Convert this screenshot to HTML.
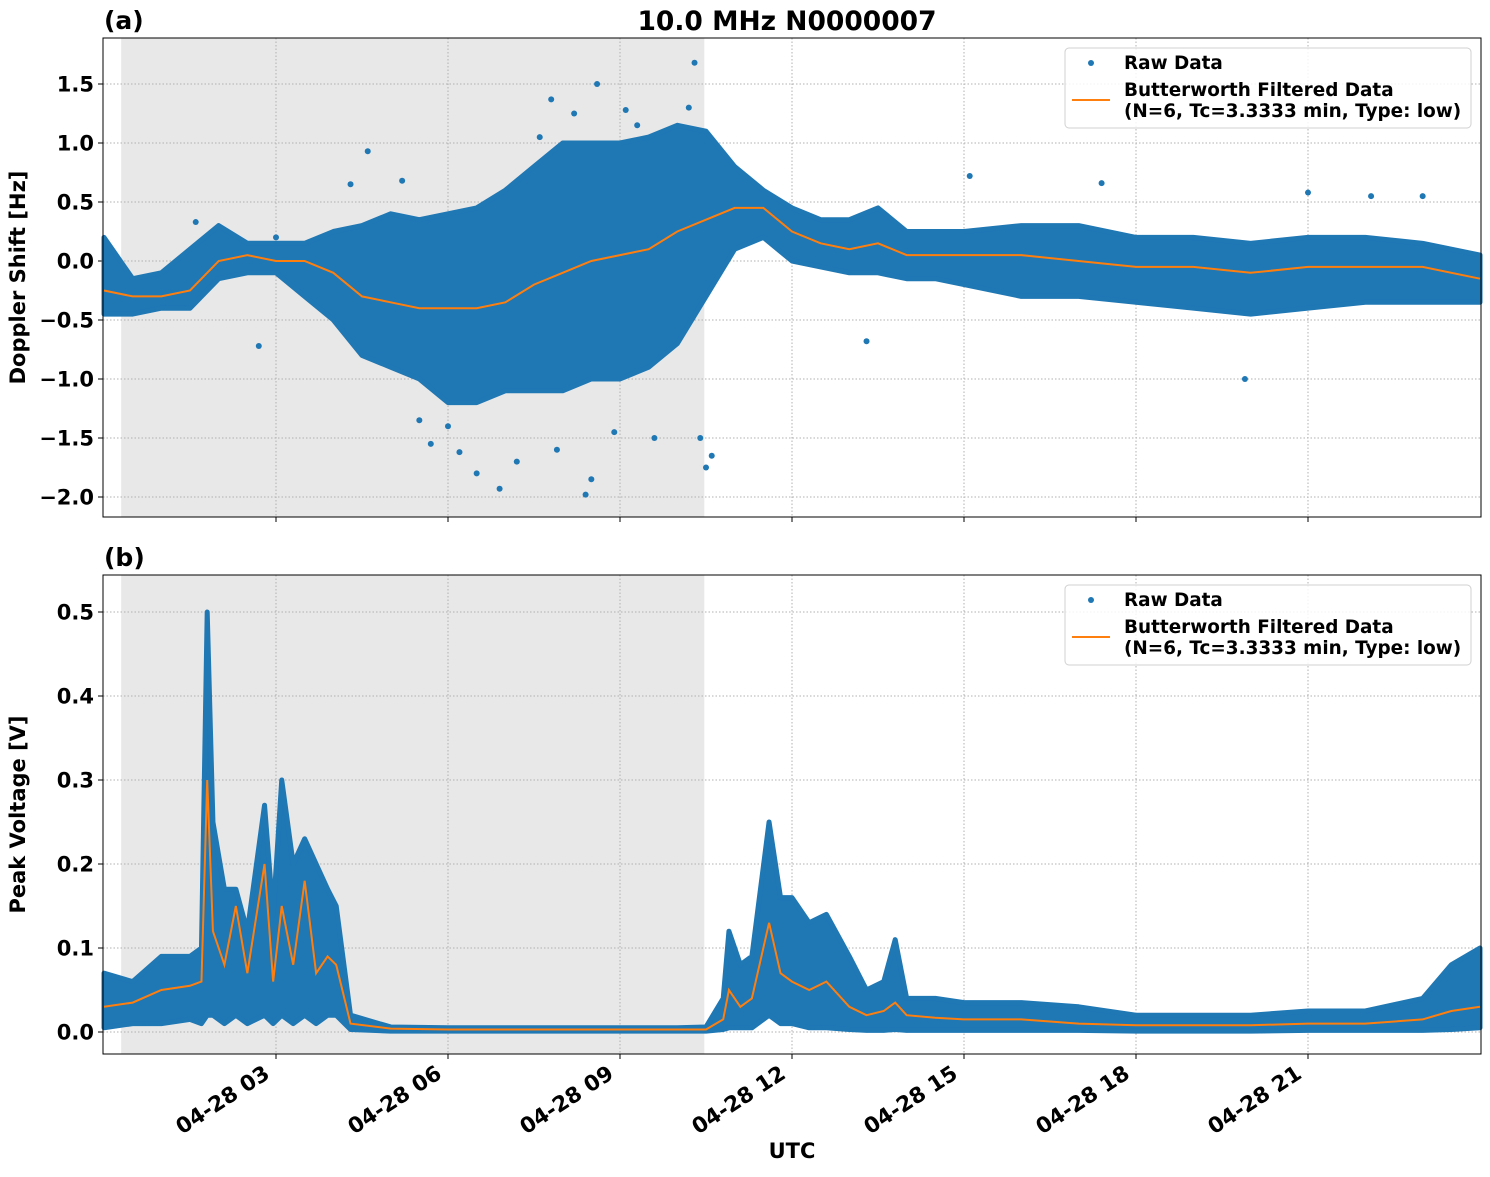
<!DOCTYPE html>
<html><head><meta charset="utf-8"><style>
body{margin:0;background:#fff;}
svg text{font-family:"DejaVu Sans","Liberation Sans",sans-serif;font-weight:bold;}
</style></head><body>
<svg id="c" width="1490" height="1172" xmlns="http://www.w3.org/2000/svg"></svg>
<script>
// ---- Panel (a) Doppler data ----
const timesA=[0,0.5,1,1.5,2,2.5,3,3.5,4,4.5,5,5.5,6,6.5,7,7.5,8,8.5,9,9.5,10,10.5,11,11.5,12,12.5,13,13.5,14,14.5,15,16,17,18,19,20,21,22,23,24];
const filtA=[-0.25,-0.3,-0.3,-0.25,0.0,0.05,0.0,0.0,-0.1,-0.3,-0.35,-0.4,-0.4,-0.4,-0.35,-0.2,-0.1,0.0,0.05,0.1,0.25,0.35,0.45,0.45,0.25,0.15,0.1,0.15,0.05,0.05,0.05,0.05,0.0,-0.05,-0.05,-0.1,-0.05,-0.05,-0.05,-0.15];
const upA=[0.2,-0.15,-0.1,0.1,0.3,0.15,0.15,0.15,0.25,0.3,0.4,0.35,0.4,0.45,0.6,0.8,1.0,1.0,1.0,1.05,1.15,1.1,0.8,0.6,0.45,0.35,0.35,0.45,0.25,0.25,0.25,0.3,0.3,0.2,0.2,0.15,0.2,0.2,0.15,0.05];
const loA=[-0.45,-0.45,-0.4,-0.4,-0.15,-0.1,-0.1,-0.3,-0.5,-0.8,-0.9,-1.0,-1.2,-1.2,-1.1,-1.1,-1.1,-1.0,-1.0,-0.9,-0.7,-0.3,0.1,0.2,0.0,-0.05,-0.1,-0.1,-0.15,-0.15,-0.2,-0.3,-0.3,-0.35,-0.4,-0.45,-0.4,-0.35,-0.35,-0.35];
const outTA=[4.6,5.7,6.2,6.5,6.9,7.8,8.2,8.4,8.6,9.1,9.6,10.3,10.5,1.6,2.7,3.0,13.3,15.1,17.4,19.9,21.0,22.1,23.0,8.5,10.2,7.6,5.2,4.3,5.5,6.0,7.2,7.9,9.3,10.6,10.4,8.9];
const outVA=[0.93,-1.55,-1.62,-1.8,-1.93,1.37,1.25,-1.98,1.5,1.28,-1.5,1.68,-1.75,0.33,-0.72,0.2,-0.68,0.72,0.66,-1.0,0.58,0.55,0.55,-1.85,1.3,1.05,0.68,0.65,-1.35,-1.4,-1.7,-1.6,1.15,-1.65,-1.5,-1.45];
// ---- Panel (b) Peak voltage data ----
const timesB=[0,0.5,1,1.5,1.7,1.8,1.9,2.1,2.3,2.5,2.8,2.95,3.1,3.3,3.5,3.7,3.9,4.05,4.3,5,6,8,10,10.5,10.8,10.9,11.1,11.3,11.6,11.8,12,12.3,12.6,13,13.3,13.6,13.8,14,14.5,15,16,17,18,19,20,21,22,23,23.5,24];
const filtB=[0.03,0.035,0.05,0.055,0.06,0.3,0.12,0.08,0.15,0.07,0.2,0.06,0.15,0.08,0.18,0.07,0.09,0.08,0.01,0.004,0.003,0.003,0.003,0.003,0.015,0.05,0.03,0.04,0.13,0.07,0.06,0.05,0.06,0.03,0.02,0.025,0.035,0.02,0.017,0.015,0.015,0.01,0.008,0.008,0.008,0.01,0.01,0.015,0.025,0.03];
const upB=[0.07,0.06,0.09,0.09,0.1,0.5,0.25,0.17,0.17,0.12,0.27,0.14,0.3,0.2,0.23,0.2,0.17,0.15,0.02,0.006,0.005,0.005,0.005,0.006,0.04,0.12,0.08,0.09,0.25,0.16,0.16,0.13,0.14,0.09,0.05,0.06,0.11,0.04,0.04,0.035,0.035,0.03,0.02,0.02,0.02,0.025,0.025,0.04,0.08,0.1];
const loB=[0.005,0.01,0.01,0.015,0.01,0.02,0.02,0.01,0.02,0.01,0.02,0.01,0.02,0.01,0.02,0.01,0.02,0.02,0.003,0.001,0.001,0.001,0.001,0.001,0.003,0.005,0.005,0.005,0.02,0.01,0.01,0.005,0.005,0.003,0.002,0.002,0.003,0.002,0.002,0.002,0.002,0.002,0.001,0.001,0.001,0.002,0.002,0.002,0.003,0.005];
const xTicks=[3,6,9,12,15,18,21];
const xTickLabels=["04-28 03","04-28 06","04-28 09","04-28 12","04-28 15","04-28 18","04-28 21"];
const yTicksA=[1.5,1.0,0.5,0.0,-0.5,-1.0,-1.5,-2.0];
const yTicksB=[0.5,0.4,0.3,0.2,0.1,0.0];

const svg=document.getElementById('c');const NS='http://www.w3.org/2000/svg';
function el(t,a,p){const e=document.createElementNS(NS,t);for(const k in a)e.setAttribute(k,a[k]);(p||svg).appendChild(e);return e;}
const X0=103,X1=1481;
const xs=h=>104+h*(172/3);
const panels=[{top:38,bot:517,ys:v=>261-v*118,ticks:yTicksA,fmt:v=>v.toFixed(1).replace('-','\u2212'),t:timesA,f:filtA,u:upA,l:loA,lab:'(a)',yl:'Doppler Shift [Hz]',nm:'doppler'},
{top:575,bot:1054,ys:v=>1032-v*840,ticks:yTicksB,fmt:v=>v.toFixed(1),t:timesB,f:filtB,u:upB,l:loB,lab:'(b)',yl:'Peak Voltage [V]',nm:'voltage'}];
panels.forEach((P,i)=>{
  const g=el('g',{});
  
  
  const sh=el('rect',{x:xs(0.3),y:P.top,width:xs(10.47)-xs(0.3),height:P.bot-P.top,fill:'#e8e8e8'},g);
  
  
  xTicks.forEach(h=>{el('line',{x1:xs(h),x2:xs(h),y1:P.top,y2:P.bot,stroke:'#b0b0b0','stroke-dasharray':'1.5,2','stroke-width':1},g);
    el('line',{x1:xs(h),x2:xs(h),y1:P.bot,y2:P.bot+5,stroke:'#000'},g);});
  P.ticks.forEach(v=>{const y=P.ys(v);el('line',{x1:X0,x2:X1,y1:y,y2:y,stroke:'#b0b0b0','stroke-dasharray':'1.5,2'},g);
    el('line',{x1:X0-5,x2:X0,y1:y,y2:y,stroke:'#000'},g);
    const t=el('text',{x:X0-9,y:y+7.5,'text-anchor':'end','font-size':21},g);t.textContent=P.fmt(v);
    
    });
  let d='';P.t.forEach((h,k)=>{d+=(k?'L':'M')+xs(h)+','+P.ys(P.u[k]);});
  for(let k=P.t.length-1;k>=0;k--)d+='L'+xs(P.t[k])+','+P.ys(P.l[k]);
  const band=el('path',{d:d+'Z',fill:'#1f77b4',stroke:'#1f77b4','stroke-width':5,'stroke-linejoin':'round'},g);
  
  
  if(i===0){outTA.forEach((h,k)=>{const c=el('circle',{cx:xs(h),cy:P.ys(outVA[k]),r:3,fill:'#1f77b4'},g);
    
    });}
  let ld='';P.t.forEach((h,k)=>{ld+=(k?'L':'M')+xs(h)+','+P.ys(P.f[k]);});
  const ln=el('path',{d:ld,fill:'none',stroke:'#ff7f0e','stroke-width':2},g);
  
  
  el('rect',{x:X0,y:P.top,width:X1-X0,height:P.bot-P.top,fill:'none',stroke:'#000','stroke-width':1},g);
  const lab=el('text',{x:104,y:P.top-9,'font-size':25},g);lab.textContent=P.lab;
  
  
  const cy=(P.top+P.bot)/2;
  const yl=el('text',{x:25,y:cy,'font-size':21,'text-anchor':'middle',transform:`rotate(-90 25 ${cy})`},g);yl.textContent=P.yl;
  
  
  const lg=el('g',{},g);
  
  
  const ly=P.top+10;
  el('rect',{x:1065,y:ly,width:406,height:80,rx:4,fill:'#fff','fill-opacity':0.85,stroke:'#d0d0d0'},lg);
  el('circle',{cx:1091,cy:ly+15,r:3,fill:'#1f77b4'},lg);
  el('line',{x1:1072,x2:1110,y1:ly+52,y2:ly+52,stroke:'#ff7f0e','stroke-width':2},lg);
  [['Raw Data',ly+21],['Butterworth Filtered Data',ly+48],['(N=6, Tc=3.3333 min, Type: low)',ly+69]].forEach(([s,y])=>{
    const t=el('text',{x:1124,y:y,'font-size':18.4},lg);t.textContent=s;
    
    });
});
xTicks.forEach((h,k)=>{const x=xs(h)-5,y=1077;
  const t=el('text',{x:x,y:y,'text-anchor':'end','font-size':21.5,transform:`rotate(-33 ${x} ${y})`});t.textContent=xTickLabels[k];
  
  });
const ut=el('text',{x:792,y:1158,'text-anchor':'middle','font-size':21});ut.textContent='UTC';


const ti=el('text',{x:787,y:30,'text-anchor':'middle','font-size':26.5});ti.textContent='10.0 MHz N0000007';


</script>
</body></html>
